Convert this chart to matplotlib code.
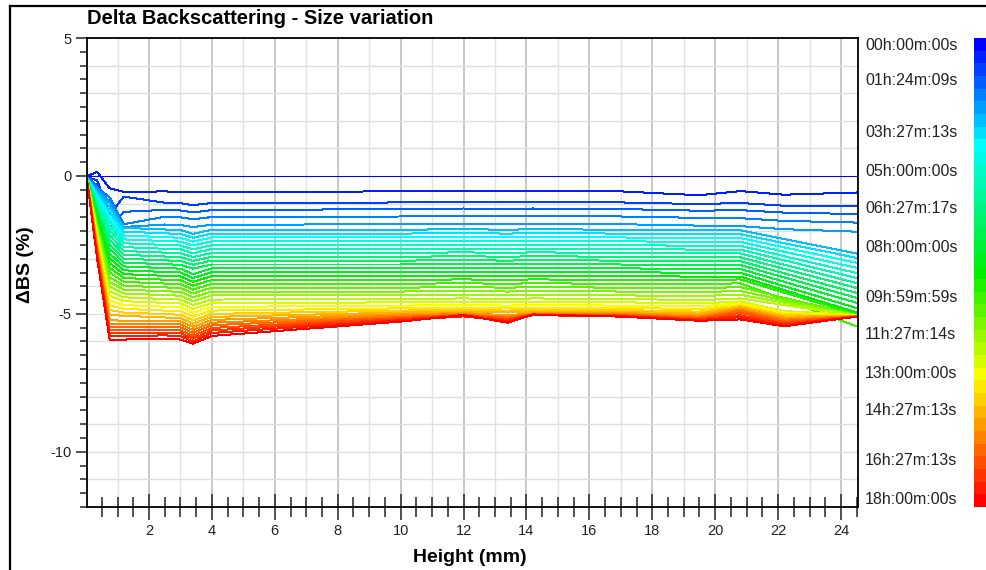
import numpy as np
import matplotlib
matplotlib.use("Agg")
import matplotlib.pyplot as plt
from matplotlib.colors import LinearSegmentedColormap, ListedColormap, BoundaryNorm
from matplotlib.cm import ScalarMappable
from matplotlib.lines import Line2D

plt.rcParams['font.family'] = ['Liberation Sans', 'DejaVu Sans']
plt.rcParams['axes.unicode_minus'] = False

# heights (mm) at which every scan profile is given
heights = [0.05, 0.35, 0.75, 1.2, 2.5, 3.0, 3.4, 4.0, 7.0, 10.0, 12.0,
           13.4, 14.2, 17.0, 19.5, 20.8, 22.2, 24.5]

# delta backscattering (%) per scan, first scan is the reference
delta_bs = [
    [0.00, 0.00, 0.00, 0.00, 0.00, 0.00, 0.00, 0.00, 0.00, 0.00, 0.00, 0.00, 0.00, 0.00, 0.00, 0.00, 0.00, 0.00],
    [0.00, 0.15, -0.45, -0.58, -0.56, -0.58, -0.58, -0.57, -0.57, -0.56, -0.55, -0.56, -0.55, -0.56, -0.70, -0.55, -0.68, -0.60],
    [-0.06, -0.15, -1.40, -0.75, -0.97, -0.99, -1.06, -0.98, -0.98, -0.96, -0.95, -0.96, -0.95, -0.96, -1.02, -0.98, -1.08, -1.10],
    [-0.07, -0.34, -1.90, -1.30, -1.23, -1.25, -1.32, -1.24, -1.22, -1.20, -1.18, -1.20, -1.18, -1.20, -1.26, -1.24, -1.33, -1.38],
    [-0.08, -0.42, -0.78, -1.75, -1.48, -1.50, -1.57, -1.49, -1.48, -1.47, -1.45, -1.47, -1.45, -1.47, -1.52, -1.53, -1.63, -1.69],
    [-0.09, -0.50, -0.95, -1.85, -1.76, -1.78, -1.85, -1.77, -1.76, -1.75, -1.73, -1.75, -1.73, -1.75, -1.80, -1.82, -1.93, -2.02],
    [-0.09, -0.58, -1.12, -1.88, -1.94, -1.96, -2.10, -1.95, -1.95, -1.95, -1.93, -1.95, -1.93, -1.95, -1.97, -1.97, -2.29, -2.81],
    [-0.10, -0.66, -1.29, -2.02, -2.08, -2.10, -2.24, -2.09, -2.09, -2.09, -2.07, -2.09, -2.07, -2.09, -2.11, -2.11, -2.44, -2.97],
    [-0.11, -0.74, -1.46, -2.16, -2.22, -2.24, -2.38, -2.23, -2.23, -2.23, -2.21, -2.23, -2.21, -2.23, -2.25, -2.25, -2.59, -3.15],
    [-0.11, -0.82, -1.63, -2.30, -2.36, -2.38, -2.52, -2.37, -2.37, -2.37, -2.35, -2.37, -2.35, -2.37, -2.39, -2.39, -2.75, -3.33],
    [-0.12, -0.90, -1.80, -2.44, -2.50, -2.52, -2.66, -2.51, -2.51, -2.51, -2.49, -2.51, -2.49, -2.51, -2.53, -2.53, -2.91, -3.52],
    [-0.13, -0.98, -1.97, -2.58, -2.64, -2.66, -2.80, -2.65, -2.65, -2.65, -2.63, -2.65, -2.63, -2.65, -2.67, -2.67, -3.06, -3.70],
    [-0.13, -1.06, -2.14, -2.72, -2.78, -2.80, -2.94, -2.79, -2.79, -2.79, -2.77, -2.79, -2.77, -2.79, -2.81, -2.81, -3.22, -3.88],
    [-0.14, -1.14, -2.31, -2.86, -2.92, -2.94, -3.08, -2.93, -2.93, -2.93, -2.91, -2.93, -2.91, -2.93, -2.95, -2.95, -3.37, -4.06],
    [-0.15, -1.22, -2.48, -3.00, -3.06, -3.08, -3.22, -3.07, -3.07, -3.07, -3.05, -3.07, -3.05, -3.07, -3.09, -3.09, -3.53, -4.24],
    [-0.16, -1.30, -2.65, -3.14, -3.20, -3.22, -3.36, -3.21, -3.21, -3.21, -3.19, -3.21, -3.19, -3.21, -3.23, -3.23, -3.68, -4.42],
    [-0.16, -1.38, -2.82, -3.28, -3.34, -3.36, -3.56, -3.35, -3.35, -3.35, -3.33, -3.35, -3.33, -3.35, -3.37, -3.37, -3.84, -4.60],
    [-0.17, -1.46, -2.99, -3.42, -3.48, -3.50, -3.70, -3.49, -3.49, -3.49, -3.47, -3.49, -3.47, -3.49, -3.51, -3.51, -4.00, -4.79],
    [-0.18, -1.54, -3.16, -3.56, -3.62, -3.64, -3.84, -3.63, -3.63, -3.63, -3.61, -3.63, -3.61, -3.63, -3.65, -3.65, -4.14, -4.95],
    [-0.18, -1.62, -3.33, -3.70, -3.76, -3.78, -3.98, -3.77, -3.77, -3.77, -3.75, -3.77, -3.75, -3.77, -3.79, -3.75, -4.23, -5.02],
    [-0.19, -1.70, -3.50, -3.84, -3.90, -3.92, -4.12, -3.91, -3.91, -3.91, -3.89, -3.91, -3.89, -3.91, -3.93, -3.89, -4.48, -5.45],
    [-0.20, -1.78, -3.67, -3.98, -4.04, -4.06, -4.26, -4.05, -4.05, -4.05, -4.03, -4.05, -4.03, -4.05, -4.07, -4.03, -4.42, -5.05],
    [-0.20, -1.86, -3.84, -4.12, -4.18, -4.20, -4.40, -4.19, -4.19, -4.19, -4.17, -4.19, -4.17, -4.19, -4.21, -4.17, -4.51, -5.06],
    [-0.21, -1.94, -4.01, -4.26, -4.32, -4.34, -4.54, -4.33, -4.33, -4.33, -4.31, -4.33, -4.31, -4.33, -4.35, -4.31, -4.59, -5.04],
    [-0.22, -2.02, -4.18, -4.40, -4.46, -4.48, -4.68, -4.48, -4.47, -4.46, -4.44, -4.46, -4.44, -4.46, -4.50, -4.44, -4.68, -5.07],
    [-0.23, -2.10, -4.35, -4.54, -4.60, -4.62, -4.82, -4.61, -4.60, -4.58, -4.56, -4.58, -4.56, -4.58, -4.62, -4.55, -4.90, -5.05],
    [-0.23, -2.18, -4.52, -4.68, -4.74, -4.76, -4.96, -4.75, -4.72, -4.70, -4.68, -4.70, -4.68, -4.70, -4.73, -4.62, -4.95, -5.08],
    [-0.24, -2.26, -4.69, -4.82, -4.88, -4.90, -5.10, -4.88, -4.84, -4.80, -4.78, -4.80, -4.78, -4.78, -4.83, -4.68, -5.00, -5.06],
    [-0.25, -2.34, -4.86, -4.95, -5.01, -5.03, -5.23, -5.00, -4.94, -4.88, -4.86, -4.88, -4.86, -4.86, -4.92, -4.72, -5.05, -5.09],
    [-0.25, -2.42, -5.03, -5.07, -5.13, -5.15, -5.35, -5.11, -5.03, -4.95, -4.93, -4.95, -4.93, -4.92, -4.99, -4.76, -5.10, -5.07],
    [-0.26, -2.50, -5.20, -5.27, -5.25, -5.27, -5.47, -5.22, -5.11, -5.01, -4.97, -5.05, -4.98, -4.97, -5.05, -4.80, -5.15, -5.10],
    [-0.27, -2.58, -5.37, -5.38, -5.36, -5.38, -5.58, -5.32, -5.19, -5.06, -5.00, -5.10, -5.00, -5.00, -5.10, -4.85, -5.20, -5.08],
    [-0.27, -2.66, -5.49, -5.49, -5.47, -5.49, -5.69, -5.41, -5.26, -5.11, -5.03, -5.14, -5.02, -5.03, -5.14, -4.90, -5.25, -5.10],
    [-0.28, -2.74, -5.60, -5.60, -5.58, -5.60, -5.80, -5.51, -5.33, -5.15, -5.05, -5.18, -5.03, -5.05, -5.17, -4.96, -5.30, -5.09],
    [-0.29, -2.82, -5.70, -5.70, -5.68, -5.70, -5.90, -5.60, -5.39, -5.19, -5.07, -5.22, -5.04, -5.07, -5.20, -5.05, -5.35, -5.11],
    [-0.30, -2.90, -5.80, -5.80, -5.78, -5.80, -6.00, -5.69, -5.46, -5.23, -5.09, -5.26, -5.05, -5.08, -5.22, -5.12, -5.40, -5.10],
    [-0.30, -2.98, -5.93, -5.93, -5.91, -5.93, -6.08, -5.80, -5.54, -5.28, -5.04, -5.32, -5.02, -5.10, -5.25, -5.20, -5.45, -5.10],
]

# time labels beside the colour scale
time_labels = ["00h:00m:00s", "01h:24m:09s", "03h:27m:13s", "05h:00m:00s",
               "06h:27m:17s", "08h:00m:00s", "09h:59m:59s", "11h:27m:14s",
               "13h:00m:00s", "14h:27m:13s", "16h:27m:13s", "18h:00m:00s"]
total_hours = 18.0

W, H = 986, 570
fig = plt.figure(figsize=(W / 100, H / 100), dpi=100)

# blue -> cyan -> green -> yellow -> red, one step per scan
base = LinearSegmentedColormap.from_list(
    "scan", [(0.0, "#0000ff"), (0.22, "#00ffff"), (0.5, "#00ee00"),
             (0.73, "#ffff00"), (1.0, "#ff0000")])
n_scans = len(delta_bs)
colors = [base(k / (n_scans - 1)) for k in range(n_scans)]

ax = fig.add_axes([87 / W, 1 - 507 / H, (858 - 87) / W, (507 - 38) / H])

# grid: darker every 2 mm, lighter at odd mm, horizontal every 1 %
for xg in range(1, 25):
    ax.axvline(xg, color="#c4c4c4" if xg % 2 == 0 else "#e2e2e2",
               lw=1.3 if xg % 2 == 0 else 1.0, zorder=0)
for yg in range(-11, 5):
    ax.axhline(yg, color="#dedede", lw=1.0, zorder=0)

# crisp one-pixel profiles
for row, col in zip(delta_bs, colors):
    ax.plot(heights, row, color=col, lw=0.72, antialiased=False, zorder=2)

ax.set_xlim(0.03, 24.54)
ax.set_ylim(-12, 5)
ax.set_xticks(range(2, 25, 2))
ax.set_xticks(np.arange(0.5, 24.6, 0.5), minor=True)
ax.set_yticks([-10, -5, 0, 5])
ax.set_yticks(np.arange(-12, 5.01, 0.5), minor=True)
ax.tick_params(axis="x", which="major", direction="inout", length=19, width=1.1,
               labelsize=10.5, pad=3, colors="#222222")
ax.tick_params(axis="x", which="minor", direction="inout", length=14, width=1.1,
               colors="#222222")
ax.tick_params(axis="y", which="major", direction="out", length=8, width=1.1,
               labelsize=10.5, pad=3, colors="#222222")
ax.tick_params(axis="y", which="minor", direction="out", length=5, width=1.1,
               colors="#222222")
for sp in ax.spines.values():
    sp.set_linewidth(1.3)
    sp.set_color("black")

fig.text(87 / W, 1 - 19 / H, "Delta Backscattering - Size variation",
         fontsize=14.5, fontweight="bold", ha="left", va="center")
fig.text(470 / W, 1 - 558 / H, "Height (mm)", fontsize=14, fontweight="bold",
         ha="center", va="center")
fig.text(26 / W, 1 - 265 / H, "ΔBS (%)", fontsize=14, fontweight="bold",
         rotation=90, ha="center", va="center")

# stepped colour scale
cax = fig.add_axes([974 / W, 1 - 507 / H, 14 / W, (507 - 38) / H])
sm = ScalarMappable(norm=BoundaryNorm(np.arange(n_scans + 1) - 0.5, n_scans),
                    cmap=ListedColormap(colors))
cb = fig.colorbar(sm, cax=cax)
cb.outline.set_visible(False)
cax.invert_yaxis()
cax.set_yticks([])
cax.tick_params(length=0)

# time labels placed by their clock value
lab = fig.add_axes([865 / W, 1 - 500 / H, 0.1, (500 - 45) / H])
lab.set_ylim(total_hours, 0)
lab.set_xlim(0, 1)
lab.axis("off")
for txt in time_labels:
    hh, mm, ss = txt.replace("h", "").replace("m", "").replace("s", "").split(":")
    hrs = int(hh) + int(mm) / 60 + int(ss) / 3600
    lab.text(0, hrs, txt, fontsize=11.5, ha="left", va="center", color="#222222")

# window frame
fig.add_artist(Line2D([10 / W, 10 / W], [0, 1 - 6 / H], color="black", lw=1.6,
                      transform=fig.transFigure))
fig.add_artist(Line2D([10 / W, 1], [1 - 6 / H, 1 - 6 / H], color="black", lw=1.6,
                      transform=fig.transFigure))

fig.savefig("out.png", dpi=100)
